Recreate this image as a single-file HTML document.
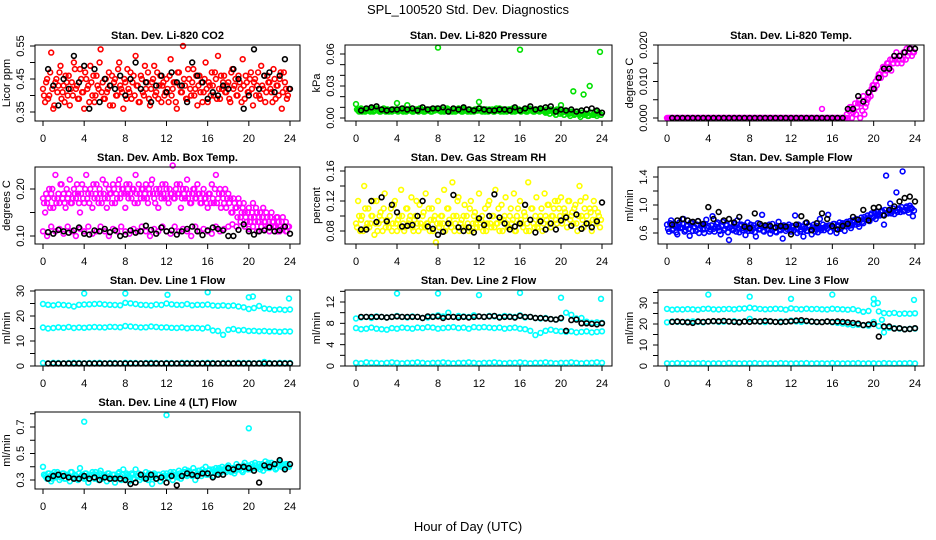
<!DOCTYPE html>
<html><head><meta charset="utf-8"><title>SPL_100520 Std. Dev. Diagnostics</title>
<style>
html,body{margin:0;padding:0;background:#fff;}
svg{display:block;font-family:"Liberation Sans",sans-serif;}
</style></head>
<body>
<svg id="chart" width="936" height="540" viewBox="0 0 936 540" xmlns="http://www.w3.org/2000/svg">
<rect x="0" y="0" width="936" height="540" fill="#fff"/>
<text x="468" y="14" text-anchor="middle" font-size="13">SPL_100520  Std. Dev. Diagnostics</text>
<text x="468" y="531" text-anchor="middle" font-size="13">Hour of Day (UTC)</text>
</svg>
<script>
// ---------- shared x ticks ----------
const xTicks=[0,4,8,12,16,20,24];
const xTickLabels=["0","4","8","12","16","20","24"];

// ---------- CO2 ----------
const co2Red=[0.42,0.38,0.45,0.40,0.53,0.36,0.44,0.41,0.47,0.39,0.43,0.46,0.40,0.37,0.44,0.50,0.42,0.39,0.48,0.41,
0.36,0.45,0.43,0.49,0.40,0.38,0.46,0.42,0.54,0.44,0.39,0.41,0.47,0.43,0.37,0.45,0.40,0.50,0.42,0.36,
0.44,0.48,0.41,0.39,0.46,0.52,0.43,0.38,0.45,0.40,0.42,0.47,0.37,0.44,0.49,0.41,0.39,0.46,0.43,0.40,
0.45,0.38,0.51,0.42,0.44,0.36,0.47,0.41,0.55,0.43,0.39,0.45,0.40,0.48,0.42,0.37,0.46,0.44,0.41,0.50,
0.38,0.43,0.47,0.40,0.45,0.52,0.39,0.42,0.46,0.41,0.44,0.38,0.48,0.43,0.40,0.46,0.42,0.51,0.39,0.44,
0.41,0.47,0.37,0.45,0.43,0.40,0.49,0.42,0.38,0.46,0.44,0.41,0.48,0.39,0.43,0.45,0.36,0.47,0.42,0.40];
const co2Red2=[0.40,0.44,0.39,0.47,0.42,0.37,0.45,0.43,0.49,0.41,0.38,0.44,0.46,0.42,0.40,0.48,0.43,0.39,0.45,0.41,
0.47,0.42,0.38,0.44,0.46,0.40,0.43,0.50,0.41,0.39,0.45,0.42,0.37,0.46,0.44,0.40,0.48,0.43,0.41,0.45,
0.39,0.42,0.47,0.44,0.40,0.43,0.38,0.46,0.41,0.49,0.44,0.39,0.42,0.45,0.40,0.47,0.43,0.38,0.44,0.41,
0.42,0.46,0.40,0.44,0.38,0.47,0.43,0.41,0.45,0.39,0.48,0.42,0.44,0.40,0.46,0.43,0.41,0.38,0.45,0.42,
0.44,0.40,0.43,0.47,0.39,0.42,0.46,0.44,0.41,0.43,0.39,0.47,0.42,0.45,0.40,0.44,0.38,0.43,0.46,0.41,
0.45,0.42,0.44,0.40,0.47,0.39,0.43,0.46,0.41,0.44,0.42,0.38,0.45,0.43,0.40,0.47,0.41,0.44,0.39,0.42];
const co2Black=[0.48,0.43,0.37,0.45,0.42,0.52,0.44,0.49,0.36,0.48,0.38,0.45,0.43,0.42,0.46,0.40,0.45,0.50,0.42,0.44,0.38,0.43,0.46,0.41,0.47,0.44,0.43,0.38,0.50,0.46,0.44,0.39,0.41,0.40,0.43,0.42,0.48,0.45,0.36,0.40,0.54,0.42,0.46,0.47,0.41,0.46,0.51,0.42];
const co2Ticks=[0.35,0.40,0.45,0.50,0.55];
const co2Labels=["0.35","","0.45","","0.55"];

// ---------- Pressure ----------
const presGreen=[0.013,0.007,0.008,0.006,0.007,0.008,0.007,0.006,0.008,0.007,0.009,0.007,0.006,0.008,0.007,0.008,0.006,0.007,0.008,0.007,
0.014,0.007,0.008,0.006,0.007,0.012,0.008,0.007,0.006,0.008,0.007,0.009,0.007,0.006,0.008,0.007,0.008,0.006,0.007,0.008,
0.066,0.007,0.008,0.006,0.007,0.008,0.007,0.006,0.008,0.007,0.009,0.007,0.006,0.008,0.007,0.008,0.006,0.007,0.008,0.007,
0.015,0.007,0.008,0.006,0.007,0.008,0.007,0.006,0.008,0.007,0.009,0.007,0.006,0.008,0.007,0.008,0.006,0.007,0.008,0.007,
0.064,0.007,0.008,0.006,0.007,0.008,0.007,0.006,0.008,0.007,0.009,0.007,0.006,0.008,0.007,0.008,0.006,0.007,0.008,0.007,
0.012,0.006,0.007,0.005,0.004,0.006,0.025,0.004,0.006,0.003,0.005,0.022,0.004,0.002,0.030,0.005,0.003,0.006,0.004,0.062];
const presGreen2=[0.008,0.006,0.009,0.007,0.006,0.008,0.007,0.009,0.006,0.007,0.008,0.006,0.007,0.009,0.006,0.008,0.007,0.006,0.008,0.007,
0.006,0.008,0.007,0.009,0.006,0.007,0.008,0.006,0.007,0.008,0.006,0.009,0.007,0.006,0.008,0.007,0.006,0.008,0.007,0.009,
0.007,0.006,0.008,0.007,0.009,0.006,0.007,0.008,0.006,0.007,0.008,0.006,0.009,0.007,0.006,0.008,0.007,0.006,0.008,0.007,
0.009,0.006,0.007,0.008,0.006,0.007,0.008,0.006,0.009,0.007,0.006,0.008,0.007,0.006,0.008,0.007,0.009,0.006,0.007,0.008,
0.006,0.007,0.008,0.006,0.009,0.007,0.006,0.008,0.007,0.006,0.008,0.007,0.005,0.006,0.004,0.007,0.005,0.003,0.006,0.004,
0.005,0.003,0.006,0.004,0.002,0.005,0.003,0.006,0.004,0.001,0.005,0.003,0.004,0.002,0.005,0.003,0.004,0.002,0.005,0.003];
const presBlack=[0.007,0.009,0.010,0.011,0.008,0.007,0.008,0.008,0.009,0.008,0.009,0.007,0.010,0.008,0.009,0.009,0.010,0.006,0.009,0.008,0.010,0.008,0.007,0.009,0.008,0.007,0.007,0.008,0.008,0.007,0.010,0.007,0.009,0.011,0.008,0.009,0.010,0.011,0.006,0.008,0.007,0.008,0.006,0.007,0.008,0.009,0.007,0.005];
const presTicks=[0,0.01,0.02,0.03,0.04,0.05,0.06];
const presLabels=["0.00","","","0.03","","","0.06"];

// ---------- Temp ----------
const tempMag=[0,0,0,0,0,0,0,0,0,0,0,0,0,0,0,0,0,0,0,0,
0,0,0,0,0,0,0,0,0,0,0,0,0,0,0,0,0,0,0,0,
0,0,0,0,0,0,0,0,0,0,0,0,0,0,0,0,0,0,0,0,
0,0,0,0,0,0,0,0,0,0,0,0,0,0,0,0.0025,0,0,0,0,
0,0,0,0,0,0,0,0.001,0.002,0.003,0.0015,0.004,0.003,0.005,0.004,0.006,0.003,0.005,0.007,0.008,
0.009,0.010,0.011,0.012,0.013,0.014,0.013,0.015,0.016,0.016,0.017,0.018,0.016,0.017,0.016,0.018,0.019,0.018,0.019,0.018];
const tempMag2=[0,0,0,0,0,0,0,0,0,0,0,0,0,0,0,0,0,0,0,0,
0,0,0,0,0,0,0,0,0,0,0,0,0,0,0,0,0,0,0,0,
0,0,0,0,0,0,0,0,0,0,0,0,0,0,0,0,0,0,0,0,
0,0,0,0,0,0,0,0,0,0,0,0,0,0,0,0,0,0,0,0,
0,0,0,0,0,0,0,0,0.003,0,0.002,0.001,0.004,0,0.002,0.001,0.004,0.0055,0.006,0.009,
0.008,0.009,0.012,0.011,0.014,0.012,0.015,0.014,0.013,0.015,0.016,0.015,0.017,0.015,0.018,0.016,0.017,0.019,0.017,0.018];
const tempBlack=[0,0,0,0,0,0,0,0,0,0,0,0,0,0,0,0,0,0,0,0,0,0,0,0,0,0,0,0,0,0,0,0,0,0,0.0025,0.0025,0.006,0.0045,0.007,0.008,0.011,0.0135,0.0135,0.017,0.017,0.018,0.019,0.019];
const tempTicks=[0,0.005,0.010,0.015,0.020];
const tempLabels=["0.000","","0.010","","0.020"];

// ---------- Amb Box Temp ----------
const ambUpper=[0.18,0.15,0.17,0.20,0.19,0.16,0.23,0.18,0.17,0.21,0.19,0.16,0.18,0.22,0.17,0.20,0.18,0.19,0.15,0.21,
0.17,0.23,0.19,0.20,0.16,0.18,0.21,0.17,0.19,0.22,0.18,0.16,0.20,0.19,0.21,0.17,0.18,0.22,0.19,0.20,
0.16,0.19,0.21,0.18,0.20,0.23,0.17,0.19,0.20,0.18,0.21,0.17,0.19,0.22,0.18,0.20,0.16,0.19,0.21,0.18,
0.20,0.17,0.19,0.25,0.18,0.21,0.19,0.16,0.20,0.18,0.22,0.19,0.17,0.20,0.18,0.21,0.19,0.17,0.20,0.18,
0.16,0.19,0.21,0.17,0.23,0.18,0.20,0.19,0.17,0.16,0.19,0.18,0.15,0.17,0.16,0.18,0.14,0.16,0.15,0.13,
0.16,0.14,0.17,0.13,0.15,0.14,0.12,0.16,0.13,0.14,0.12,0.15,0.13,0.12,0.14,0.11,0.13,0.12,0.13,0.12];
const ambUpper2=[0.17,0.19,0.18,0.16,0.20,0.18,0.17,0.19,0.21,0.18,0.17,0.20,0.19,0.17,0.18,0.19,0.21,0.17,0.19,0.18,
0.20,0.18,0.17,0.19,0.21,0.19,0.18,0.20,0.17,0.19,0.21,0.18,0.19,0.17,0.20,0.19,0.21,0.18,0.20,0.19,
0.21,0.18,0.19,0.20,0.17,0.19,0.21,0.18,0.20,0.19,0.18,0.20,0.21,0.19,0.17,0.19,0.20,0.18,0.19,0.21,
0.18,0.20,0.19,0.18,0.20,0.19,0.21,0.18,0.19,0.20,0.18,0.17,0.19,0.20,0.18,0.19,0.17,0.19,0.18,0.17,
0.19,0.17,0.18,0.20,0.17,0.19,0.16,0.18,0.20,0.18,0.17,0.15,0.18,0.16,0.14,0.17,0.15,0.17,0.14,0.15,
0.13,0.15,0.14,0.16,0.13,0.15,0.14,0.13,0.15,0.12,0.14,0.13,0.12,0.14,0.13,0.12,0.14,0.12,0.11,0.12];
const ambLower=[0.11,0.10,0.12,0.11,0.115,0.105,0.12,0.11,0.10,0.115,0.11,0.12,0.105,0.11,0.12,0.11,0.10,0.115,0.11,0.12,0.11,0.105,0.115,0.11,0.12,0.11,0.10,0.115,0.11,0.12,0.11,0.105,0.12,0.11,0.115,0.11,0.10,0.12,0.11,0.115,0.11,0.105,0.12,0.11,0.115,0.12,0.125,0.12,0.13,0.12,0.115,0.12,0.11,0.12,0.115,0.11,0.12,0.11,0.115,0.11];
const ambBlack=[0.108,0.105,0.113,0.110,0.107,0.112,0.118,0.105,0.103,0.112,0.110,0.115,0.108,0.112,0.100,0.103,0.112,0.107,0.110,0.122,0.113,0.105,0.118,0.110,0.112,0.103,0.110,0.115,0.120,0.110,0.102,0.112,0.118,0.115,0.112,0.100,0.100,0.113,0.125,0.110,0.103,0.110,0.112,0.118,0.110,0.112,0.120,0.105];
const ambTicks=[0.10,0.15,0.20];
const ambLabels=["0.10","","0.20"];

// ---------- Gas stream RH ----------
const rhYellow=[0.09,0.12,0.08,0.10,0.14,0.085,0.11,0.09,0.10,0.075,0.12,0.09,0.105,0.08,0.13,0.095,0.085,0.11,0.09,0.12,
0.08,0.10,0.135,0.09,0.085,0.11,0.095,0.125,0.08,0.10,0.09,0.115,0.085,0.105,0.13,0.09,0.08,0.11,0.095,0.065,
0.12,0.09,0.10,0.135,0.085,0.11,0.09,0.145,0.08,0.10,0.125,0.09,0.085,0.115,0.10,0.08,0.12,0.09,0.105,0.085,
0.13,0.095,0.08,0.11,0.09,0.12,0.085,0.10,0.135,0.09,0.08,0.115,0.095,0.125,0.085,0.10,0.09,0.13,0.08,0.11,
0.12,0.09,0.105,0.08,0.145,0.095,0.11,0.085,0.125,0.09,0.10,0.08,0.13,0.095,0.115,0.085,0.10,0.12,0.09,0.11,
0.125,0.095,0.105,0.085,0.12,0.10,0.09,0.115,0.08,0.14,0.10,0.085,0.125,0.09,0.11,0.08,0.12,0.095,0.105,0.085];
const rhYellow2=[0.085,0.10,0.095,0.08,0.11,0.09,0.085,0.10,0.12,0.09,0.08,0.10,0.095,0.11,0.085,0.09,0.10,0.08,0.115,0.09,
0.095,0.085,0.10,0.08,0.11,0.09,0.10,0.085,0.095,0.12,0.08,0.09,0.10,0.085,0.09,0.11,0.095,0.08,0.10,0.09,
0.085,0.10,0.09,0.08,0.11,0.095,0.085,0.10,0.09,0.12,0.08,0.095,0.10,0.085,0.09,0.11,0.08,0.10,0.09,0.095,
0.085,0.10,0.09,0.08,0.115,0.09,0.10,0.085,0.09,0.11,0.095,0.08,0.10,0.09,0.085,0.11,0.095,0.08,0.10,0.09,
0.095,0.085,0.10,0.09,0.08,0.11,0.09,0.10,0.085,0.095,0.11,0.09,0.10,0.115,0.09,0.10,0.11,0.095,0.12,0.10,
0.09,0.11,0.10,0.12,0.095,0.105,0.11,0.09,0.10,0.12,0.095,0.11,0.10,0.09,0.105,0.095,0.11,0.09,0.10,0.095];
const rhBlack=[0.082,0.082,0.12,0.092,0.125,0.093,0.115,0.105,0.086,0.087,0.088,0.100,0.120,0.086,0.083,0.075,0.079,0.090,0.128,0.085,0.080,0.085,0.078,0.097,0.088,0.100,0.129,0.098,0.090,0.082,0.086,0.090,0.115,0.095,0.078,0.093,0.082,0.090,0.082,0.094,0.098,0.087,0.102,0.083,0.090,0.085,0.093,0.118];
const rhTicks=[0.08,0.10,0.12,0.14,0.16];
const rhLabels=["0.08","","0.12","","0.16"];

// ---------- Sample flow ----------
const flowBlue=[0.72,0.62,0.78,0.66,0.70,0.58,0.75,0.68,0.80,0.64,0.71,0.56,0.74,0.69,0.63,0.77,0.66,0.72,0.60,0.79,
0.70,0.65,0.84,0.62,0.73,0.68,0.58,0.76,0.66,0.71,0.50,0.74,0.64,0.69,0.78,0.61,0.72,0.67,0.57,0.75,
0.68,0.63,0.71,0.55,0.74,0.66,0.86,0.62,0.70,0.65,0.59,0.73,0.67,0.61,0.76,0.64,0.52,0.70,0.66,0.72,
0.62,0.68,0.85,0.60,0.71,0.65,0.55,0.74,0.63,0.69,0.58,0.72,0.66,0.61,0.80,0.67,0.64,0.70,0.86,0.62,
0.68,0.73,0.60,0.71,0.66,0.74,0.63,0.76,0.70,0.67,0.78,0.72,0.75,0.69,0.82,0.74,0.79,0.85,0.77,0.88,
0.83,0.80,0.90,0.85,0.92,0.72,1.42,0.88,1.02,0.91,0.87,1.18,0.95,0.90,1.48,0.93,0.98,0.89,0.96,0.84];
const flowBlue2=[0.66,0.74,0.64,0.72,0.61,0.69,0.67,0.73,0.62,0.70,0.66,0.75,0.63,0.68,0.72,0.60,0.70,0.65,0.73,0.67,
0.62,0.71,0.66,0.69,0.75,0.63,0.70,0.64,0.72,0.61,0.68,0.66,0.73,0.62,0.67,0.70,0.64,0.71,0.66,0.63,
0.72,0.67,0.61,0.69,0.65,0.70,0.63,0.68,0.66,0.72,0.64,0.67,0.62,0.70,0.65,0.68,0.71,0.63,0.69,0.66,
0.70,0.64,0.67,0.72,0.62,0.69,0.66,0.63,0.71,0.65,0.68,0.62,0.70,0.66,0.64,0.72,0.68,0.66,0.71,0.69,
0.73,0.66,0.70,0.75,0.68,0.72,0.70,0.74,0.77,0.71,0.75,0.80,0.73,0.78,0.76,0.83,0.79,0.81,0.86,0.82,
0.88,0.85,0.87,0.90,0.86,0.93,0.89,0.91,0.88,0.95,0.92,0.90,0.94,0.97,0.91,0.96,0.93,0.99,0.95,0.92];
const flowBlack=[0.72,0.78,0.80,0.78,0.76,0.77,0.73,0.97,0.80,0.90,0.78,0.80,0.75,0.83,0.69,0.67,0.88,0.73,0.71,0.70,0.68,0.70,0.69,0.58,0.72,0.84,0.75,0.64,0.74,0.88,0.80,0.70,0.65,0.70,0.73,0.83,0.79,0.93,0.78,0.96,0.97,0.85,0.93,0.98,1.05,1.10,1.12,1.05];
const flowTicks=[0.6,0.8,1.0,1.2,1.4];
const flowLabels=["0.6","","1.0","","1.4"];

// ---------- Line 1 flow (49 values, half-hourly) ----------
const l1Upper=[24.8,24.5,24.3,24.6,24.4,24.2,23.8,24.5,24.6,24.7,24.8,24.9,24.6,24.5,24.4,24.3,25.3,25.1,24.8,24.5,24.4,24.2,24.6,24.4,25.0,24.7,24.5,24.4,24.8,24.3,24.5,24.4,24.6,24.2,24.1,24.3,24.0,24.2,23.8,23.5,22.8,23.2,24.0,23.0,22.8,22.5,22.7,22.4,22.6];
const l1Mid=[15.4,15.0,15.2,15.5,15.3,15.6,15.2,15.4,15.3,15.5,15.6,15.5,15.4,15.7,15.6,15.5,16.0,15.8,15.6,15.4,15.5,15.8,15.6,15.4,15.5,15.3,15.2,15.4,15.1,15.3,15.2,15.0,15.4,14.2,14.0,12.5,14.5,14.8,14.3,14.4,14.0,14.1,13.9,14.0,13.8,13.9,13.7,13.9,13.8];
const l1Low=[1.2,1.1,1.3,1.2,1.1,1.2,1.3,1.2,1.1,1.2,1.2,1.3,1.1,1.2,1.2,1.1,1.3,1.2,1.2,1.1,1.2,1.3,1.2,1.1,1.2,1.2,1.1,1.3,1.2,1.2,1.1,1.2,1.3,1.2,1.1,1.2,1.2,1.1,1.3,1.2,1.2,1.1,1.2,1.6,1.2,1.1,1.3,1.2,1.2];
const l1OutT=[4,8,12.1,16,20,20.4,23.9];
const l1OutV=[29,29,28.5,29.5,27.5,27.8,27];
const l1Black=[1.0,1.0,1.0,1.0,1.0,1.0,1.0,1.0,1.0,1.0,1.0,1.0,1.0,1.0,1.0,1.0,1.0,1.0,1.0,1.0,1.0,1.0,1.0,1.0,1.0,1.0,1.0,1.0,1.0,1.0,1.0,1.0,1.0,1.0,1.0,1.0,1.0,1.0,1.0,1.0,1.0,1.0,1.0,1.0,1.0,1.0,1.0,1.0];
const l1Ticks=[0,5,10,15,20,25,30];
const l1Labels=["0","","10","","20","","30"];

// ---------- Line 2 flow ----------
const l2Upper=[8.9,9.1,9.2,9.0,9.3,9.2,9.1,9.2,9.4,9.2,9.1,9.3,9.2,9.0,9.1,9.3,9.5,9.3,10.0,9.2,9.4,9.3,9.2,9.5,9.3,9.2,9.4,9.3,9.2,9.4,9.3,9.2,9.5,9.1,9.2,9.0,8.9,9.0,8.8,8.7,8.9,10.0,9.6,8.9,9.0,8.3,8.1,8.2,8.1];
const l2Mid=[7.1,6.9,7.0,7.2,7.0,6.9,6.8,7.1,7.0,7.2,7.1,7.0,7.2,7.1,7.3,7.2,7.0,7.1,7.2,7.3,7.1,7.2,7.0,7.3,7.2,7.3,7.2,7.1,7.2,7.0,7.1,7.2,7.0,6.9,6.6,5.8,6.2,6.6,6.8,6.6,6.5,6.4,6.5,6.3,6.4,6.5,6.3,6.4,6.5];
const l2Low=[0.6,0.5,0.7,0.6,0.6,0.5,0.6,0.7,0.6,0.5,0.6,0.6,0.7,0.6,0.5,0.6,0.6,0.7,0.6,0.5,0.6,0.6,0.7,0.6,0.5,0.6,0.6,0.7,0.6,0.5,0.6,0.6,0.7,0.6,0.5,0.6,0.6,0.7,0.6,0.5,0.6,0.6,0.7,0.6,0.5,0.6,0.6,0.7,0.6];
const l2OutT=[4,8,12,16,20,23.9];
const l2OutV=[13.6,13.6,13.3,13.7,12.8,12.6];
const l2Black=[9.2,9.2,9.2,9.2,9.2,9.1,9.2,9.3,9.2,9.2,9.2,9.2,9.0,9.3,9.2,9.3,9.0,9.2,9.2,9.1,9.2,9.1,9.2,9.3,9.2,9.3,9.4,9.1,9.2,9.2,9.1,9.4,9.2,9.2,9.0,9.0,8.9,8.8,8.7,9.0,6.6,8.6,8.7,8.0,8.0,7.9,7.8,8.0];
const l2Ticks=[0,2,4,6,8,10,12,14];
const l2Labels=["0","","4","","8","","12",""];

// ---------- Line 3 flow ----------
const l3Upper=[27.2,26.8,27.0,26.9,27.1,27.0,26.8,27.2,27.3,27.0,26.9,27.1,27.2,27.0,27.3,27.4,27.8,27.5,27.2,27.0,27.1,27.3,27.2,26.8,27.5,27.2,27.0,27.3,27.1,27.2,27.0,26.9,27.3,27.1,27.0,26.8,27.1,26.5,25.8,26.2,29.5,26.0,25.2,25.0,25.3,24.8,25.0,24.9,25.1];
const l3Mid=[20.8,21.2,21.0,20.9,21.1,21.3,21.0,20.8,21.2,21.3,21.0,21.1,21.2,21.4,21.0,21.2,22.5,21.3,21.1,20.9,21.2,21.0,21.3,21.1,21.6,21.2,21.0,21.3,21.1,20.9,21.0,21.2,20.8,20.5,20.2,19.8,19.5,19.6,19.4,19.2,21.0,19.0,18.5,18.2,18.0,17.8,17.5,17.7,17.8];
const l3Low=[1.3,1.2,1.4,1.3,1.2,1.3,1.3,1.4,1.2,1.3,1.3,1.2,1.4,1.3,1.2,1.3,1.3,1.4,1.2,1.3,1.3,1.2,1.4,1.3,1.2,1.3,1.3,1.4,1.2,1.3,1.3,1.2,1.4,1.3,1.2,1.3,1.3,1.4,1.2,1.3,1.3,1.2,1.4,1.3,1.2,1.3,1.3,1.4,1.2];
const l3OutT=[4,8,12,16,20,20.4,23.9,21,20.8];
const l3OutV=[34,33,32,34,32,30,31.5,16,22];
const l3Black=[21,21.2,21,20.8,20.5,21.2,21,21.2,21.4,21.3,21.5,21.2,21,20.8,21.2,21,21.3,21.2,21.5,21.3,21,20.9,21.1,21.3,21.6,21.8,21.5,21.2,21.0,20.9,21.2,21.0,21.2,21.0,20.8,20.5,20.2,19.5,19.8,20.0,14.0,18.8,18.8,17.8,18.0,17.5,17.6,18.0];
const l3Ticks=[0,5,10,15,20,25,30,35];
const l3Labels=["0","","10","","20","","30",""];

// ---------- Line 4 flow ----------
const l4Cyan=[0.40,0.33,0.31,0.35,0.29,0.34,0.32,0.36,0.30,0.33,0.35,0.31,0.34,0.29,0.36,0.32,0.33,0.30,0.39,0.34,
0.31,0.35,0.28,0.33,0.36,0.31,0.34,0.30,0.37,0.32,0.33,0.29,0.35,0.31,0.34,0.28,0.33,0.36,0.30,0.38,
0.32,0.34,0.29,0.35,0.31,0.38,0.33,0.30,0.34,0.32,0.36,0.30,0.33,0.27,0.35,0.31,0.34,0.29,0.33,0.31,
0.35,0.32,0.36,0.30,0.34,0.33,0.37,0.31,0.35,0.38,0.33,0.36,0.34,0.39,0.30,0.35,0.37,0.33,0.36,0.40,
0.34,0.38,0.36,0.33,0.39,0.37,0.35,0.40,0.38,0.36,0.41,0.37,0.39,0.35,0.42,0.38,0.40,0.36,0.43,0.39,
0.41,0.38,0.40,0.43,0.39,0.42,0.40,0.37,0.44,0.41,0.39,0.43,0.40,0.38,0.42,0.44,0.40,0.39,0.42,0.41];
const l4Cyan2=[0.34,0.32,0.35,0.33,0.31,0.36,0.33,0.34,0.32,0.35,0.31,0.34,0.33,0.36,0.32,0.34,0.31,0.35,0.33,0.32,
0.35,0.33,0.31,0.34,0.32,0.36,0.33,0.35,0.31,0.34,0.32,0.35,0.33,0.31,0.34,0.32,0.35,0.33,0.34,0.31,
0.35,0.33,0.32,0.34,0.31,0.33,0.35,0.32,0.34,0.31,0.33,0.35,0.32,0.34,0.33,0.31,0.34,0.32,0.35,0.33,
0.32,0.34,0.33,0.36,0.34,0.32,0.35,0.33,0.36,0.34,0.37,0.35,0.33,0.36,0.34,0.37,0.35,0.38,0.36,0.34,
0.37,0.35,0.38,0.36,0.37,0.39,0.36,0.38,0.37,0.40,0.38,0.36,0.39,0.37,0.40,0.38,0.37,0.41,0.39,0.38,
0.40,0.42,0.39,0.41,0.40,0.38,0.42,0.41,0.39,0.43,0.41,0.40,0.42,0.39,0.41,0.43,0.41,0.40,0.42,0.40];
const l4OutT=[4,12,20];
const l4OutV=[0.74,0.79,0.69];
const l4Black=[0.31,0.33,0.34,0.33,0.32,0.31,0.31,0.33,0.31,0.32,0.30,0.32,0.31,0.31,0.31,0.30,0.27,0.28,0.34,0.31,0.34,0.31,0.32,0.28,0.33,0.26,0.33,0.35,0.34,0.33,0.35,0.35,0.32,0.34,0.34,0.39,0.38,0.40,0.40,0.39,0.37,0.28,0.41,0.40,0.42,0.45,0.38,0.42];
const l4Ticks=[0.3,0.4,0.5,0.6,0.7,0.8];
const l4Labels=["0.3","","0.5","","0.7",""];

// ---------- time grids ----------
function grid(n,step,start){const a=[];for(let i=0;i<n;i++)a.push(start+i*step);return a;}
const tDense=grid(120,0.2,0);
const tDense2=grid(120,0.2,0.1);
const tBand=grid(49,0.5,0);
const tLow=grid(60,0.4,0);
const tBlack=grid(48,0.5,0.5);

// ---------- layout ----------
const cols=[{bl:35,br:300,x0:43,x24:290},{bl:345,br:612,x0:356,x24:602},{bl:658,br:924,x0:667,x24:915}];
const rows=[{top:45,bot:121},{top:167,bot:244},{top:290,bot:366},{top:412,bot:489}];
const NS="http://www.w3.org/2000/svg";
const svg=document.getElementById('chart');
function el(tag,attrs,parent){const e=document.createElementNS(NS,tag);for(const k in attrs)e.setAttribute(k,attrs[k]);parent.appendChild(e);return e;}

function panel(cfg){
  const c=cols[cfg.col],r=rows[cfg.row];
  const g=el('g',{},svg);
  
  
  const xs=t=>c.x0+(t/24)*(c.x24-c.x0);
  const ys=v=>cfg.p1+(v-cfg.v1)*(cfg.p2-cfg.p1)/(cfg.v2-cfg.v1);
  const ti=el('text',{x:(c.bl+c.br)/2,y:r.top-6,'text-anchor':'middle','font-size':'11','font-weight':'bold'},g);
  ti.textContent=cfg.title;
  
  
  const pts=el('g',{fill:'none','stroke-width':'1.6'},g);
  
  
  cfg.series.forEach(s=>{
    const sg=el('g',{stroke:s.color},pts);
    
    
    for(let i=0;i<s.v.length;i++){
      const cy=ys(s.v[i]);
      const ci=el('circle',{cx:xs(s.t[i]).toFixed(1),cy:cy.toFixed(1),r:'2.4'},sg);
      
      
    }
  });
  const bx=el('rect',{x:c.bl,y:r.top,width:c.br-c.bl,height:r.bot-r.top,fill:'none',stroke:'#000','stroke-width':'1'},g);
  
  
  const xa=el('g',{},g);
  
  
  el('line',{x1:c.x0,x2:c.x24,y1:r.bot,y2:r.bot,stroke:'#000'},xa);
  xTicks.forEach((t,i)=>{
    const x=xs(t);
    el('line',{x1:x,x2:x,y1:r.bot,y2:r.bot+5,stroke:'#000'},xa);
    const tx=el('text',{x:x,y:r.bot+21,'text-anchor':'middle','font-size':'11'},xa);
    tx.textContent=xTickLabels[i];
    
    
  });
  const ya=el('g',{},g);
  
  
  const yt=cfg.ticks.map(ys).filter(y=>y>=r.top-2&&y<=r.bot+2);
  el('line',{x1:c.bl,x2:c.bl,y1:Math.min(...yt),y2:Math.max(...yt),stroke:'#000'},ya);
  cfg.ticks.forEach((v,i)=>{
    const y=ys(v);
    if(y<r.top-2||y>r.bot+2)return;
    el('line',{x1:c.bl-5,x2:c.bl,y1:y,y2:y,stroke:'#000'},ya);
    if(cfg.labels[i]){
      const tx=el('text',{x:0,y:0,'text-anchor':'middle','font-size':'11',transform:`translate(${c.bl-11},${y}) rotate(-90)`},ya);
      tx.textContent=cfg.labels[i];
      
      
    }
  });
  const yl=el('text',{x:0,y:0,'text-anchor':'middle','font-size':'11',transform:`translate(${c.bl-25},${(r.top+r.bot)/2}) rotate(-90)`},g);
  yl.textContent=cfg.ylab;
  
  
}

const RED='#ff0000',GRN='#00e000',MAG='#ff00ff',YEL='#ffff00',BLU='#0000ff',CYN='#00ffff',BLK='#000000';

panel({name:'panel-co2',col:0,row:0,title:'Stan. Dev. Li-820 CO2',ylab:'Licor ppm',v1:0.55,p1:46,v2:0.35,p2:112,ticks:co2Ticks,labels:co2Labels,
  series:[{name:'co2-series',t:tDense,v:co2Red,color:RED},{name:'co2-series-b',t:tDense2,v:co2Red2,color:RED},{name:'co2-black',t:tBlack,v:co2Black,color:BLK}]});
panel({name:'panel-pressure',col:1,row:0,title:'Stan. Dev. Li-820 Pressure',ylab:'kPa',v1:0.06,p1:54,v2:0,p2:118,ticks:presTicks,labels:presLabels,
  series:[{name:'pressure-series',t:tDense,v:presGreen,color:GRN},{name:'pressure-series-b',t:tDense2,v:presGreen2,color:GRN},{name:'pressure-black',t:tBlack,v:presBlack,color:BLK}]});
panel({name:'panel-temp',col:2,row:0,title:'Stan. Dev. Li-820 Temp.',ylab:'degrees C',v1:0.02,p1:45,v2:0,p2:118,ticks:tempTicks,labels:tempLabels,
  series:[{name:'temp-series',t:tDense,v:tempMag,color:MAG},{name:'temp-series-b',t:tDense2,v:tempMag2,color:MAG},{name:'temp-black',t:tBlack,v:tempBlack,color:BLK}]});
panel({name:'panel-amb-box-temp',col:0,row:1,title:'Stan. Dev. Amb. Box Temp.',ylab:'degrees C',v1:0.20,p1:189,v2:0.10,p2:236,ticks:ambTicks,labels:ambLabels,
  series:[{name:'amb-upper',t:tDense,v:ambUpper,color:MAG},{name:'amb-upper-b',t:tDense2,v:ambUpper2,color:MAG},{name:'amb-lower',t:tLow,v:ambLower,color:MAG},{name:'amb-black',t:tBlack,v:ambBlack,color:BLK}]});
panel({name:'panel-rh',col:1,row:1,title:'Stan. Dev. Gas Stream RH',ylab:'percent',v1:0.16,p1:171,v2:0.08,p2:231,ticks:rhTicks,labels:rhLabels,
  series:[{name:'rh-series',t:tDense,v:rhYellow,color:YEL},{name:'rh-series-b',t:tDense2,v:rhYellow2,color:YEL},{name:'rh-black',t:tBlack,v:rhBlack,color:BLK}]});
panel({name:'panel-sample-flow',col:2,row:1,title:'Stan. Dev. Sample Flow',ylab:'ml/min',v1:1.4,p1:177,v2:0.6,p2:233,ticks:flowTicks,labels:flowLabels,
  series:[{name:'flow-series',t:tDense,v:flowBlue,color:BLU},{name:'flow-series-b',t:tDense2,v:flowBlue2,color:BLU},{name:'flow-black',t:tBlack,v:flowBlack,color:BLK}]});
panel({name:'panel-line1-flow',col:0,row:2,title:'Stan. Dev. Line 1 Flow',ylab:'ml/min',v1:30,p1:291,v2:0,p2:366,ticks:l1Ticks,labels:l1Labels,
  series:[{name:'line1-upper',t:tBand,v:l1Upper,color:CYN},{name:'line1-mid',t:tBand,v:l1Mid,color:CYN},{name:'line1-low',t:tBand,v:l1Low,color:CYN},{name:'line1-outliers',t:l1OutT,v:l1OutV,color:CYN},{name:'line1-black',t:tBlack,v:l1Black,color:BLK}]});
panel({name:'panel-line2-flow',col:1,row:2,title:'Stan. Dev. Line 2 Flow',ylab:'ml/min',v1:12,p1:302,v2:0,p2:366,ticks:l2Ticks,labels:l2Labels,
  series:[{name:'line2-upper',t:tBand,v:l2Upper,color:CYN},{name:'line2-mid',t:tBand,v:l2Mid,color:CYN},{name:'line2-low',t:tBand,v:l2Low,color:CYN},{name:'line2-outliers',t:l2OutT,v:l2OutV,color:CYN},{name:'line2-black',t:tBlack,v:l2Black,color:BLK}]});
panel({name:'panel-line3-flow',col:2,row:2,title:'Stan. Dev. Line 3 Flow',ylab:'ml/min',v1:30,p1:303,v2:0,p2:366,ticks:l3Ticks,labels:l3Labels,
  series:[{name:'line3-upper',t:tBand,v:l3Upper,color:CYN},{name:'line3-mid',t:tBand,v:l3Mid,color:CYN},{name:'line3-low',t:tBand,v:l3Low,color:CYN},{name:'line3-outliers',t:l3OutT,v:l3OutV,color:CYN},{name:'line3-black',t:tBlack,v:l3Black,color:BLK}]});
panel({name:'panel-line4-flow',col:0,row:3,title:'Stan. Dev. Line 4 (LT) Flow',ylab:'ml/min',v1:0.7,p1:427,v2:0.3,p2:480,ticks:l4Ticks,labels:l4Labels,
  series:[{name:'line4-series',t:tDense,v:l4Cyan,color:CYN},{name:'line4-series-b',t:tDense2,v:l4Cyan2,color:CYN},{name:'line4-outliers',t:l4OutT,v:l4OutV,color:CYN},{name:'line4-black',t:tBlack,v:l4Black,color:BLK}]});
</script>
</body></html>
